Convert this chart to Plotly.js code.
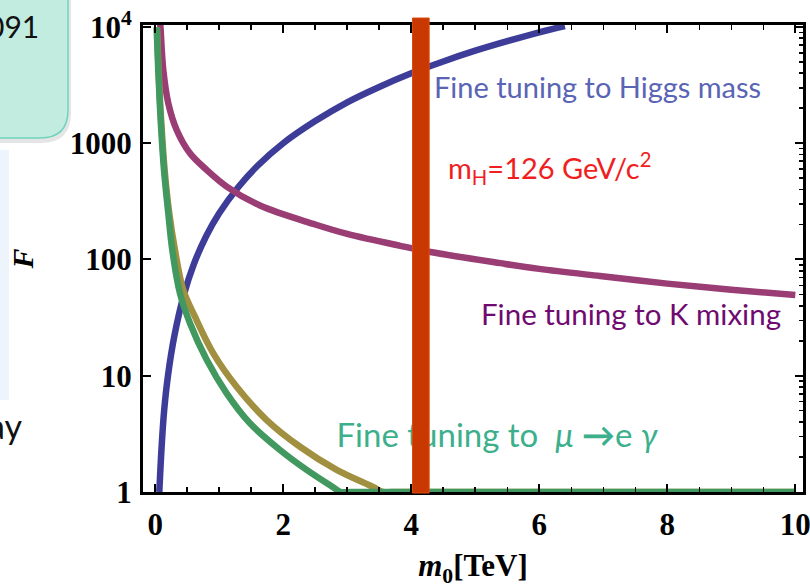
<!DOCTYPE html>
<html>
<head>
<meta charset="utf-8">
<script src="https://cdn.plot.ly/plotly-3.0.1.min.js"></script>
<style>html,body{margin:0;padding:0;background:#fff;}#chart{width:810px;height:588px;}</style>
</head>
<body>
<div id="chart"></div>
<script>
// ---- data ----
const higgsX = [0.065, 0.1, 0.14, 0.2, 0.3, 0.45, 0.6, 0.8, 1.0, 1.3, 1.6, 2.0, 2.5, 3.0, 3.5, 4.0, 4.5, 5.0, 5.5, 6.0, 6.4];
const higgsF = [1, 2.4, 5, 10, 22, 50, 90, 160, 250, 420, 640, 1000, 1550, 2250, 3050, 4000, 5050, 6250, 7550, 9000, 10200];

const kmixX = [0.08, 0.086, 0.127, 0.205, 0.336, 0.544, 0.805, 1.117, 1.638, 2.5, 3.0, 3.83, 4.3, 5.39, 6.0, 6.95, 8.0, 9.0, 10.0];
const kmixF = [10500, 9420, 4270, 2207, 1300, 819, 589, 424, 291, 200, 166, 131, 116, 93, 83, 72, 62, 55, 49.5];

const megAX = [0.028, 0.053, 0.093, 0.148, 0.22, 0.309, 0.439, 0.622, 0.908, 1.273, 1.742, 2.263, 2.836, 3.41, 3.55, 3.7, 4, 4.5, 5, 6, 7, 8, 9, 10];
const megAF = [9900, 4270, 1585, 589, 250, 121, 54.7, 32.2, 15.6, 8.05, 4.16, 2.45, 1.55, 1.1, 1, 1, 1, 1, 1, 1, 1, 1, 1, 1];

const megBX = [0.023, 0.048, 0.086, 0.138, 0.205, 0.27, 0.388, 0.544, 0.805, 1.117, 1.481, 1.95, 2.367, 2.78, 2.9, 3.05, 3.3, 3.7, 4.2, 5, 6, 7, 8, 9, 10];
const megBF = [9900, 4270, 1585, 589, 250, 118, 51, 28.3, 13.7, 7.06, 3.9, 2.3, 1.55, 1.1, 1, 1, 1, 1, 1, 1, 1, 1, 1, 1, 1];

const xTickVals = [0, 2, 4, 6, 8, 10];
const yTickVals = [1, 10, 100, 1000, 10000];
const yTickText = ['1', '10', '100', '1000', '10<sup>4</sup>'];
const yMinorVals = [2,3,4,5,6,7,8,9,20,30,40,50,60,70,80,90,200,300,400,500,600,700,800,900,2000,3000,4000,5000,6000,7000,8000,9000];

const higgsBand = [4.02, 4.28];   // red marker band (m0 range)
const labelMegX = [5.34];
const labelMegF = [2.85];

// ---- layout helpers (pixel -> paper) ----
const L = 143, R = 803, T = 25, B = 492;
const PX = p => (p - L) / (R - L);
const PY = p => (B - p) / (B - T);

const serif = 'Liberation Serif, Times New Roman, serif';
const sans = 'Lato, Open Sans, sans-serif';

const lineW = 6.5;
const traces = [
  {x: higgsX, y: higgsF, mode: 'lines', line: {color: '#3d3d99', width: lineW, shape: 'spline', smoothing: 1}, hoverinfo: 'skip'},
  {x: kmixX, y: kmixF, mode: 'lines', line: {color: '#993d74', width: lineW, shape: 'spline', smoothing: 1}, hoverinfo: 'skip'},
  {x: megAX, y: megAF, mode: 'lines', line: {color: '#a0903f', width: lineW, shape: 'spline', smoothing: 1}, hoverinfo: 'skip'},
  {x: megBX, y: megBF, mode: 'lines', line: {color: '#42995f', width: lineW, shape: 'spline', smoothing: 1}, hoverinfo: 'skip'},
  {x: labelMegX, y: labelMegF, mode: 'text', textposition: 'middle center',
   text: ['Fine tuning to  <i>μ</i> <b>→</b>e <i>γ</i>'], textfont: {family: sans, size: 33, color: '#3cb08c'}, hoverinfo: 'skip'},
  {x: kmixX, y: kmixF, yaxis: 'y2', mode: 'lines', line: {width: 0}, opacity: 0, hoverinfo: 'skip'}
];

const layout = {
  width: 810, height: 588,
  margin: {l: L, r: 810 - R, t: T, b: 588 - B},
  paper_bgcolor: '#fff', plot_bgcolor: '#fff',
  showlegend: false,
  xaxis: {
    range: [-0.19, 10.12], tickvals: xTickVals, ticks: 'inside', ticklen: 8, tickwidth: 2, tickcolor: '#000',
    minor: {dtick: 0.5, tick0: 0, ticks: 'inside', ticklen: 5, tickwidth: 1.5, tickcolor: '#000', showgrid: false},
    showline: true, linewidth: 3, linecolor: '#000', mirror: 'ticks', showgrid: false, zeroline: false,
    tickfont: {family: serif, size: 31, color: '#000', weight: 'bold'}, ticklabelstandoff: 3, ticklabeloverflow: 'allow',
    title: {text: '<i>m</i><sub>0</sub>[TeV]', font: {family: serif, size: 31, color: '#000', weight: 'bold'}, standoff: 28}
  },
  yaxis: {
    type: 'log', range: [0, 4.017], tickvals: yTickVals, ticktext: yTickText,
    ticks: 'inside', ticklen: 8, tickwidth: 2, tickcolor: '#000',
    showline: true, linewidth: 3, linecolor: '#000', mirror: 'ticks', showgrid: false, zeroline: false,
    tickfont: {family: serif, size: 31, color: '#000', weight: 'bold'}, ticklabelstandoff: 2, ticklabeloverflow: 'allow',
    title: {text: '<i>F</i>', font: {family: serif, size: 30, color: '#000', weight: 'bold'}, standoff: 28}
  },
  yaxis2: {
    type: 'log', range: [0, 4.017], overlaying: 'y', side: 'right', tickvals: yMinorVals,
    showticklabels: false, ticks: 'inside', ticklen: 4, tickwidth: 1.5, tickcolor: '#000',
    showline: false, showgrid: false, zeroline: false
  },
  shapes: [
    {type: 'rect', xref: 'paper', yref: 'paper', x0: PX(-5), x1: PX(9), y0: PY(400), y1: PY(150),
     fillcolor: '#eef4fb', line: {width: 0}, layer: 'below'},
    {type: 'path', xref: 'paper', yref: 'paper',
     path: `M ${PX(-5)},${PY(-5)} L ${PX(71)},${PY(-5)} L ${PX(71)},${PY(113)} Q ${PX(71)},${PY(143)} ${PX(41)},${PY(143)} L ${PX(-5)},${PY(143)} Z`,
     fillcolor: 'rgba(0,0,0,0.10)', line: {width: 0}, layer: 'below'},
    {type: 'path', xref: 'paper', yref: 'paper',
     path: `M ${PX(-5)},${PY(-5)} L ${PX(68)},${PY(-5)} L ${PX(68)},${PY(110)} Q ${PX(68)},${PY(138)} ${PX(40)},${PY(138)} L ${PX(-5)},${PY(138)} Z`,
     fillcolor: '#c3ece1', line: {color: '#6fd3bc', width: 1.5}, layer: 'below'},
    {type: 'rect', xref: 'x', yref: 'paper', x0: higgsBand[0], x1: higgsBand[1], y0: PY(493), y1: PY(18),
     fillcolor: '#c93800', line: {color: '#dc4a12', width: 1}, layer: 'above'}
  ],
  annotations: [
    {xref: 'paper', yref: 'paper', x: PX(432), y: PY(86), xanchor: 'left', yanchor: 'middle', align: 'left', showarrow: false,
     text: 'Fine tuning to Higgs mass', font: {family: sans, size: 29, color: '#5a64b4'}},
    {xref: 'paper', yref: 'paper', x: PX(446), y: PY(168), xanchor: 'left', yanchor: 'middle', align: 'left', showarrow: false,
     text: 'm<sub>H</sub>=126 GeV/c<sup>2</sup>', font: {family: sans, size: 29, color: '#f01e1e'}},
    {xref: 'paper', yref: 'paper', x: PX(479), y: PY(313), xanchor: 'left', yanchor: 'middle', align: 'left', showarrow: false,
     text: 'Fine tuning to K mixing', font: {family: sans, size: 29.5, color: '#700a70'}},
    {xref: 'paper', yref: 'paper', x: PX(41), y: PY(26), xanchor: 'right', yanchor: 'middle', align: 'right', showarrow: false,
     text: '091', font: {family: sans, size: 30, color: '#111'}},
    {xref: 'paper', yref: 'paper', x: PX(24), y: PY(425), xanchor: 'right', yanchor: 'middle', align: 'right', showarrow: false,
     text: 'ay', font: {family: sans, size: 34, color: '#111'}}
  ]
};

Plotly.newPlot('chart', traces, layout, {displayModeBar: false, staticPlot: true});
</script>
</body>
</html>
